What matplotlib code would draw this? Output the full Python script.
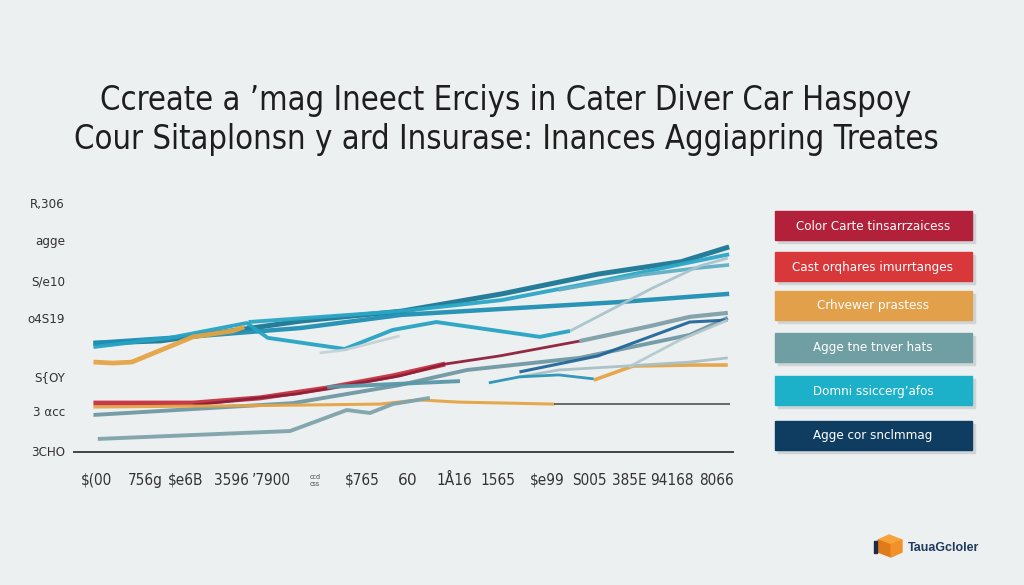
import matplotlib
matplotlib.use("Agg")
from matplotlib import pyplot as plt
from matplotlib.patches import Rectangle, Polygon

bg = '#edf0f0'

title_lines = ["Ccreate a \u2019mag Ineect Erciys in Cater Diver Car Haspoy",
               "Cour Sitaplonsn y ard Insurase: Inances Aggiapring Treates"]

y_tick_vals = [100, 85, 69, 53.5, 30, 16, 0]
y_tick_labels = ['R,306', 'agge', 'S/e10', 'o4S19', 'S{OY', '3 \u03b1cc', '3CHO']

x_tick_vals = [-0.07, 1.03, 1.97, 3.02, 3.91, 4.92, 6.0, 7.03, 8.12, 9.11, 10.23, 11.21, 12.12, 13.08, 14.1]
x_tick_labels = ['$(00', '756g', '$e6B', '3596', '\u02bc7900', 'ccd\ncss', '$765', '$60$',
                 '1\u00c516', '1565', '$e99', 'S005', '385E', '94168', '8066']

# (x, y, colour, width)
series = [
    ([-0.15, 1.4, 3.0, 4.6, 6.9, 9.2, 11.4, 13.3, 14.4], [44, 45, 49, 53, 57, 64, 72, 77, 83], '#1b7796', 3.6),
    ([3.4, 6.9, 9.2, 11.4, 13.3, 14.4], [52.6, 57, 61.5, 69, 76, 80], '#2aa7c6', 2.8),
    ([10.5, 12.4, 13.7, 14.4], [65.6, 71.7, 74.5, 75.7], '#5fb0c6', 2.6),
    ([-0.15, 2.3, 4.6, 6.9, 9.2, 11.9, 14.4], [44.1, 47, 50.2, 55.5, 57.9, 60.7, 64.0], '#1e8fb3', 3.2),
    ([-0.15, 1.6, 3.36, 3.84, 5.6, 6.7, 7.7, 10.07, 10.76], [42.5, 46.2, 52.2, 46.2, 41.7, 49.4, 52.6, 46.6, 49.0], '#27a3c4', 2.8),
    ([10.76, 11.6, 12.65, 13.73, 14.37], [49.0, 56.7, 66.4, 75.3, 78.5], '#a9c4cc', 2.0),
    ([5.03, 5.6, 6.86], [40.1, 41.3, 47.0], '#c5d2d6', 2.0),
    ([-0.15, 0.3, 0.73, 2.13, 3.04, 3.3], [36.4, 36.0, 36.4, 46.6, 49.0, 50.6], '#e5a445', 3.4),
    ([-0.15, 2.13, 3.66, 5.2, 6.7, 7.9], [19.8, 19.8, 21.9, 25.9, 30.8, 35.6], '#c4313e', 3.6),
    ([2.13, 4.5, 6.86, 7.9, 9.15, 10.98], [19.0, 23.5, 30.8, 35.6, 38.9, 44.9], '#8e1f3c', 2.0),
    ([10.98, 12.6, 13.5, 14.37], [44.9, 51.0, 54.7, 56.3], '#7e9fa8', 3.0),
    ([-0.15, 4.42, 6.86, 8.4, 10.98, 13.5, 14.37], [15.0, 19.8, 27.1, 33.2, 38.1, 47.4, 54.3], '#6f98a3', 2.8),
    ([5.2, 8.24], [26.3, 28.7], '#5a98a8', 2.8),
    ([9.6, 11.4, 13.5, 14.37], [32.4, 38.9, 52.6, 53.4], '#23679a', 2.2),
    ([-0.15, 2.29, 4.58, 6.4, 7.3, 8.2, 10.4], [18.2, 18.6, 19.0, 19.4, 21.1, 20.2, 19.4], '#e5a445', 2.2),
    ([10.4, 14.42], [19.4, 19.4], '#555555', 1.3),
    ([11.3, 12.2, 13.5, 14.37], [29.1, 34.8, 35.2, 35.2], '#e5a445', 2.6),
    ([9.6, 10.5, 11.67, 13.5, 14.37], [30.4, 33.2, 34.4, 36.4, 38.1], '#a8c0c6', 2.0),
    ([8.9, 9.6, 10.5, 11.3], [28.0, 30.4, 31.2, 29.6], '#2a95b5', 2.0),
    ([12.1, 13.27, 14.37], [34.4, 45.3, 53.4], '#b5cacf', 2.0),
    ([-0.05, 4.35, 5.65, 6.18, 6.7, 7.55], [5.3, 8.5, 17.0, 15.8, 19.4, 21.9], '#7fa3ab', 2.8),
]

legend_labels = ['Color Carte tinsarrzaicess', 'Cast orqhares imurrtanges', 'Crhvewer prastess',
                 'Agge tne tnver hats', 'Domni ssiccerg\u2019afos', 'Agge cor snclmmag']
legend_colors = ['#b3203a', '#d8383a', '#e3a04b', '#6f9ea3', '#1cb1c9', '#0f3d62']

W, H = 1024, 585
fig = plt.figure(figsize=(W / 100, H / 100), dpi=100, facecolor=bg)

# main plot area
ax = fig.add_axes([93 / W, 1 - 455 / H, (730 - 93) / W, (455 - 195) / H])
ax.set_facecolor(bg)
ax.set_xlim(-0.16, 14.42)
ax.set_ylim(-1.2, 104)
for s in ax.spines.values():
    s.set_visible(False)
ax.set_xticks([])
ax.set_yticks([])

for xs, ys, c, lw in series:
    ax.plot(xs, ys, color=c, lw=lw, solid_capstyle='butt', solid_joinstyle='round', alpha=0.95)

# baseline
ax.plot([-0.6, 14.5], [0, 0], color='#444444', lw=1.4, clip_on=False)

cond = dict(family='DejaVu Sans', fontstretch='condensed')

for v, lab in zip(y_tick_vals, y_tick_labels):
    ax.text(-0.8, v, lab, ha='right', va='center', fontsize=9.5, color='#333333',
            clip_on=False, **cond)

for v, lab in zip(x_tick_vals, x_tick_labels):
    if '\n' in lab:
        ax.text(v, -11.5, lab, ha='center', va='center', fontsize=5, color='#444444',
                linespacing=1.3, clip_on=False, **cond)
    else:
        ax.text(v, -11.5, lab, ha='center', va='center', fontsize=11, color='#333333',
                clip_on=False, **cond)

# title
for i, line in enumerate(title_lines):
    fig.text(0.494, 1 - (100 + 40 * i) / H, line, ha='center', va='center', fontsize=23.5,
             color='#1e1e1e', **cond)

# legend boxes
lax = fig.add_axes([0, 0, 1, 1], facecolor='none')
lax.set_xlim(0, W)
lax.set_ylim(H, 0)
lax.axis('off')
box_tops = [211, 252, 291, 333, 376, 421]
for top, lab, col in zip(box_tops, legend_labels, legend_colors):
    lax.add_patch(Rectangle((778, top + 3), 197, 29, color='#cfd4d6', zorder=1))
    lax.add_patch(Rectangle((775, top), 197, 29, color=col, zorder=2))
    lax.text(873, top + 15, lab, ha='center', va='center', fontsize=9.5, color='white',
             zorder=3, **cond)

# logo
lax.add_patch(Polygon([[878, 540], [889, 535], [902, 540], [891, 545]], color='#f6a33a', zorder=2))
lax.add_patch(Polygon([[878, 540], [891, 545], [891, 557], [878, 552]], color='#e07b1a', zorder=2))
lax.add_patch(Polygon([[891, 545], [902, 540], [902, 552], [891, 557]], color='#f2902a', zorder=2))
lax.add_patch(Rectangle((874, 541), 3, 12, color='#1d2b44', zorder=2))
lax.text(908, 548, 'TauaGcloler', ha='left', va='center', fontsize=9, color='#1f3a5c',
         fontweight='bold', family=['Liberation Sans', 'DejaVu Sans'])

fig.savefig('out.png', dpi=100, facecolor=bg)
